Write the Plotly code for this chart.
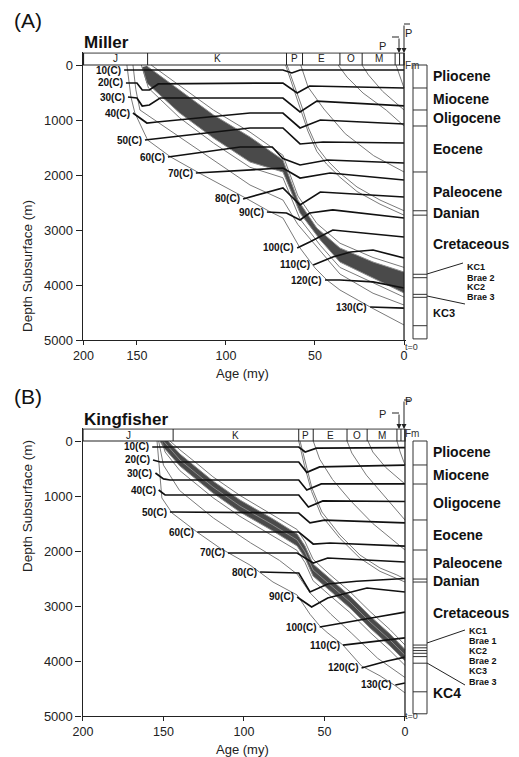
import plotly.graph_objects as go

W, H = 519, 757
FONT = "Liberation Sans, Arial, Helvetica, sans-serif"

# ---------------- data ----------------
AGE_TICKS = [200, 150, 100, 50, 0]
DEPTH_TICKS = [0, 1000, 2000, 3000, 4000, 5000]
PERIOD_BOUNDS = [200, 144, 66, 57, 36, 23.5, 5, 2.5, 0]
PERIOD_NAMES = ["J", "K", "P", "E", "O", "M", "", ""]
ISO_LABELS = ["10(C)", "20(C)", "30(C)", "40(C)", "50(C)", "60(C)", "70(C)",
              "80(C)", "90(C)", "100(C)", "110(C)", "120(C)", "130(C)"]

# ---- Panel A : Miller ----
A_ISO_AGE = [
    [162, 68, 63, 58.4, 0],
    [160.3, 150, 147, 143, 138, 68, 60, 53, 0],
    [158.4, 150, 147, 143, 137, 68, 58.4, 49, 0],
    [153.7, 148, 144.4, 138.8, 86.5, 68, 58.4, 47, 0],
    [145.5, 86.5, 68, 58.4, 45.5, 0],
    [132.6, 92, 74, 68, 58.4, 43, 0],
    [116.9, 86.5, 68, 58.4, 41.5, 0],
    [90.4, 68, 58.4, 47, 0],
    [77, 66, 58.4, 53, 40, 0],
    [60, 53, 40, 0],
    [51, 40, 30, 17.4, 0],
    [44.4, 36, 17.4, 0],
    [19, 0],
]
A_ISO_DEPTH = [
    [91, 91, 145, 91, 91],
    [327, 327, 455, 455, 345, 327, 509, 382, 418],
    [582, 600, 745, 727, 600, 600, 855, 655, 745],
    [873, 964, 1055, 1036, 873, 873, 1145, 1000, 1073],
    [1364, 1145, 1145, 1436, 1400, 1418],
    [1673, 1491, 1491, 1700, 1818, 1727, 1782],
    [1964, 1909, 1873, 2055, 1964, 2091],
    [2436, 2236, 2545, 2309, 2400],
    [2673, 2691, 2818, 2691, 2636, 2782],
    [3327, 3218, 3000, 3127],
    [3636, 3491, 3400, 3364, 3509],
    [3909, 3909, 3945, 4055],
    [4400, 4420],
]
A_BAND_UP_AGE = [144.4, 126, 107, 86.5, 68, 59.6, 49, 36, 17.4, 0]
A_BAND_UP_DEPTH = [20, 455, 909, 1309, 1727, 2455, 2964, 3327, 3582, 3764]
A_BAND_LO_AGE = [147, 144.4, 126, 107, 86.5, 68, 58.4, 47, 36, 17.4, 0]
A_BAND_LO_DEPTH = [36, 327, 873, 1327, 1764, 1945, 2691, 3182, 3582, 3873, 4145]
A_HORIZONS_AGE = [
    [142, 126, 107, 86.5, 68, 59.6, 49, 36, 17.4, 0],               # above band
    [147.5, 143.5, 126, 107, 86.5, 68, 58.4, 47, 36, 17.4, 0],       # below band
    [153.7, 151, 148.3, 86.5, 68, 59.6, 36, 17.4, 0],                # middle
    [159.4, 157.5, 155.6, 151.9, 144, 131, 115, 89, 76, 68, 58.4, 50, 43.3, 36, 18, 0],  # deepest
    [65.7, 61.2, 57.3, 53.9, 48.9, 43.3, 36, 26.4, 13.5, 0],         # top Danian
    [66.5, 61.5, 57.5, 54, 49, 43.5, 36, 26.4, 13.5, 0],             # base Danian
    [58, 53.9, 45, 33, 17, 0],
    [37, 32, 23, 10, 0],
    [23.6, 20, 12, 0],
    [4.5, 2.5, 0],
]
A_HORIZONS_DEPTH = [
    [0, 370, 820, 1220, 1640, 2380, 2880, 3240, 3500, 3680],
    [0, 420, 960, 1420, 1860, 2050, 2800, 3280, 3680, 3960, 4220],
    [0, 450, 818, 2182, 2455, 2900, 3800, 4150, 4364],
    [0, 327, 582, 873, 1364, 1673, 1964, 2418, 2655, 2782, 3327, 3690, 3909, 4091, 4418, 4727],
    [0, 400, 764, 1127, 1491, 1727, 1964, 2218, 2455, 2650],
    [0, 470, 840, 1200, 1570, 1800, 2040, 2300, 2530, 2730],
    [0, 400, 800, 1250, 1650, 1945],
    [0, 220, 510, 820, 1109],
    [0, 180, 480, 818],
    [0, 200, 418],
]
A_FM_LINES = [418, 818, 1109, 1945, 2650, 2730, 3805, 3867, 4170, 4224, 4740]
A_FM_BOTTOM = 4980
A_FM_NAMES = ["Pliocene", "Miocene", "Oligocene", "Eocene", "Paleocene", "Danian", "Cretaceous"]
A_FM_NAME_DEPTHS = [200, 618, 964, 1527, 2309, 2690, 3254]
A_FM_SMALL = ["KC1", "Brae 2", "KC2", "Brae 3"]
A_FM_SMALL_DEPTHS = [3672, 3872, 4036, 4218]
A_FM_LOW = ["KC3"]
A_FM_LOW_DEPTHS = [4509]

# ---- Panel B : Kingfisher ----
B_ISO_AGE = [
    [157, 66, 62, 55, 0],
    [156.5, 152, 66, 61, 53, 0],
    [155, 150, 146, 66, 61, 52, 0],
    [153, 149, 66, 60, 51, 0],
    [146, 66, 59, 50, 0],
    [129, 66, 57, 46.6, 0],
    [110, 67, 57, 48, 0],
    [90, 66, 59, 48, 30, 0],
    [67, 58, 48, 23.6, 0],
    [53, 36, 17.4, 0],
    [38.5, 19.8, 0],
    [27, 11, 0],
    [6, 0],
]
B_ISO_DEPTH = [
    [109, 109, 200, 130, 120],
    [345, 382, 382, 570, 470, 440],
    [582, 690, 709, 709, 890, 780, 780],
    [891, 982, 982, 1200, 1090, 1100],
    [1291, 1309, 1490, 1440, 1490],
    [1655, 1655, 1873, 1855, 1910],
    [2036, 2036, 2218, 2127, 2200],
    [2382, 2400, 2745, 2600, 2550, 2500],
    [2836, 3018, 2855, 2673, 2745],
    [3382, 3290, 3200, 3110],
    [3710, 3650, 3580],
    [4127, 4000, 3930],
    [4436, 4400],
]
B_BAND_UP_AGE = [147.2, 139.8, 129.2, 119.3, 102.5, 82, 67, 62.1, 57.1, 46.6, 34.2, 21.7, 9.3, 0]
B_BAND_UP_DEPTH = [0, 236, 491, 727, 1073, 1418, 1691, 1909, 2236, 2509, 2818, 3182, 3509, 3790]
B_BAND_LO_AGE = [152.2, 149.7, 139.8, 129.2, 119.3, 102.5, 82, 67, 62.1, 57.1, 46.6, 34.2, 21.7, 9.3, 0]
B_BAND_LO_DEPTH = [0, 127, 455, 709, 945, 1291, 1636, 1909, 2127, 2455, 2727, 3036, 3400, 3727, 4000]
B_BAND_IN_AGE = [150, 139.8, 129.2, 119.3, 102.5, 82, 67, 62.1, 57.1, 46.6, 34.2, 21.7, 9.3, 0]
B_BAND_IN_DEPTH = [0, 345, 600, 836, 1182, 1527, 1800, 2018, 2345, 2618, 2927, 3291, 3618, 3895]
B_HORIZONS_AGE = [
    [146, 139.8, 129.2, 119.3, 102.5, 82, 67, 62.1, 57.1, 46.6, 34.2, 21.7, 9.3, 0],
    [151, 149, 139.8, 129.2, 119.3, 102.5, 82, 67, 62.1, 57.1, 46.6, 34.2, 21.7, 9.3, 0],
    [153, 150, 140, 119, 96, 78, 67, 59, 46, 33, 17, 0],
    [154, 153.4, 152.2, 151, 144.7, 129.2, 115, 96.3, 82, 67, 59, 53, 48.4, 38.5, 27, 15.5, 6, 0],
    [65.2, 62.1, 57.8, 51.6, 40.4, 28, 15.5, 5, 0],
    [66, 62.5, 58, 52, 40.4, 28, 15.5, 5, 0],
    [57, 53, 45, 34, 20, 0],
    [36, 33, 24, 13, 0],
    [23, 20, 12, 0],
    [5, 3, 0],
]
B_HORIZONS_DEPTH = [
    [0, 160, 410, 650, 990, 1340, 1610, 1830, 2150, 2430, 2740, 3100, 3430, 3710],
    [0, 200, 540, 790, 1030, 1370, 1720, 1990, 2210, 2540, 2810, 3120, 3480, 3810, 4080],
    [0, 440, 900, 1400, 1850, 2170, 2420, 2760, 3150, 3500, 3950, 4300],
    [0, 255, 618, 1036, 1309, 1655, 1945, 2255, 2564, 2800, 3150, 3360, 3480, 3710, 4090, 4270, 4450, 4580],
    [0, 382, 855, 1291, 1709, 2073, 2309, 2436, 2510],
    [0, 440, 920, 1350, 1770, 2130, 2370, 2500, 2564],
    [0, 330, 700, 1080, 1500, 1982],
    [0, 220, 620, 1000, 1436],
    [0, 200, 480, 782],
    [0, 200, 436],
]
B_FM_LINES = [436, 782, 1436, 1982, 2510, 2564, 3710, 3760, 3810, 3860, 3920, 4040, 4560]
B_FM_BOTTOM = 4960
B_FM_NAMES = ["Pliocene", "Miocene", "Oligocene", "Eocene", "Paleocene", "Danian", "Cretaceous"]
B_FM_NAME_DEPTHS = [200, 618, 1127, 1709, 2218, 2545, 3127]
B_FM_SMALL = ["KC1", "Brae 1", "KC2", "Brae 2", "KC3", "Brae 3"]
B_FM_SMALL_DEPTHS = [3454, 3636, 3818, 4000, 4182, 4382]
B_FM_LOW = ["KC4"]
B_FM_LOW_DEPTHS = [4582]


# ---------------- helpers ----------------
def px(x):
    return x / W


def py(y):
    return 1 - y / H


def ua(age):  # panel A: older than 150 my is drawn compressed
    return age if age <= 150 else 150 + (age - 150) * 0.6


def ub(age):
    return age


HEADER_TOP = -218

panels = [
    dict(label="(A)", title="Miller", xa="x", ya="y", xr="x", yr="y", tf=ua,
         xdom=[82.7 / W, 405.8 / W], ydom=[1 - 340 / H, 1 - 52.35 / H],
         iso_age=A_ISO_AGE, iso_depth=A_ISO_DEPTH,
         up_age=A_BAND_UP_AGE, up_depth=A_BAND_UP_DEPTH,
         lo_age=A_BAND_LO_AGE, lo_depth=A_BAND_LO_DEPTH,
         in_age=None, in_depth=None,
         hz_age=A_HORIZONS_AGE, hz_depth=A_HORIZONS_DEPTH,
         fm_lines=A_FM_LINES, fm_bottom=A_FM_BOTTOM,
         fm_names=A_FM_NAMES, fm_name_depths=A_FM_NAME_DEPTHS,
         fm_small=A_FM_SMALL, fm_small_depths=A_FM_SMALL_DEPTHS,
         fm_low=A_FM_LOW, fm_low_depths=A_FM_LOW_DEPTHS, low_size=11,
         y0=65, top=53, bottom=340, lead=[(427, 274, 463, 263), (427, 296, 465, 304)],
         small_x=465),
    dict(label="(B)", title="Kingfisher", xa="x2", ya="y2", xr="x2", yr="y2", tf=ub,
         xdom=[82.5 / W, 406.6 / W], ydom=[1 - 716 / H, 1 - 428.35 / H],
         iso_age=B_ISO_AGE, iso_depth=B_ISO_DEPTH,
         up_age=B_BAND_UP_AGE, up_depth=B_BAND_UP_DEPTH,
         lo_age=B_BAND_LO_AGE, lo_depth=B_BAND_LO_DEPTH,
         in_age=B_BAND_IN_AGE, in_depth=B_BAND_IN_DEPTH,
         hz_age=B_HORIZONS_AGE, hz_depth=B_HORIZONS_DEPTH,
         fm_lines=B_FM_LINES, fm_bottom=B_FM_BOTTOM,
         fm_names=B_FM_NAMES, fm_name_depths=B_FM_NAME_DEPTHS,
         fm_small=B_FM_SMALL, fm_small_depths=B_FM_SMALL_DEPTHS,
         fm_low=B_FM_LOW, fm_low_depths=B_FM_LOW_DEPTHS, low_size=14,
         y0=441, top=429, bottom=716, lead=[(427, 643, 465, 630), (427, 663, 465, 685)],
         small_x=467),
]

fig = go.Figure()
shapes = []
annotations = []

for p in panels:
    tf = p["tf"]
    xa, ya = p["xa"], p["ya"]
    # shaded band
    bx = [tf(a) for a in p["up_age"]] + [tf(a) for a in p["lo_age"][::-1]]
    by = list(p["up_depth"]) + list(p["lo_depth"][::-1])
    fig.add_trace(go.Scatter(x=bx, y=by, xaxis=xa, yaxis=ya, mode="lines", fill="toself",
                             fillcolor="#4a4a4a", line=dict(width=0), hoverinfo="skip",
                             showlegend=False))
    # band edges
    for ages, depths in [(p["up_age"], p["up_depth"]), (p["lo_age"], p["lo_depth"])]:
        fig.add_trace(go.Scatter(x=[tf(a) for a in ages], y=depths, xaxis=xa, yaxis=ya,
                                 mode="lines", line=dict(color="#8c8c8c", width=1),
                                 hoverinfo="skip", showlegend=False))
    if p["in_age"]:
        fig.add_trace(go.Scatter(x=[tf(a) for a in p["in_age"]], y=p["in_depth"], xaxis=xa,
                                 yaxis=ya, mode="lines", line=dict(color="#9a9a9a", width=0.8),
                                 hoverinfo="skip", showlegend=False))
    # horizons (burial curves)
    for ages, depths in zip(p["hz_age"], p["hz_depth"]):
        fig.add_trace(go.Scatter(x=[tf(a) for a in ages], y=depths, xaxis=xa, yaxis=ya,
                                 mode="lines", line=dict(color="#7a7a7a", width=1),
                                 hoverinfo="skip", showlegend=False))
    # isotherms
    for lab, ages, depths in zip(ISO_LABELS, p["iso_age"], p["iso_depth"]):
        fig.add_trace(go.Scatter(x=[tf(a) for a in ages], y=depths, xaxis=xa, yaxis=ya,
                                 mode="lines", line=dict(color="#111111", width=1.7),
                                 hoverinfo="skip", showlegend=False))
        annotations.append(dict(x=tf(ages[0]), y=depths[0], xref=p["xr"], yref=p["yr"],
                                text="<b>%s</b>" % lab, showarrow=False, xanchor="right",
                                yanchor="middle", xshift=-1,
                                font=dict(family=FONT, size=10, color="#111")))

    # header strip
    shapes.append(dict(type="rect", xref=p["xr"], yref=p["yr"], x0=tf(200), x1=tf(0),
                       y0=HEADER_TOP, y1=0, line=dict(color="#222", width=1.2)))
    for b in PERIOD_BOUNDS[1:-1]:
        shapes.append(dict(type="line", xref=p["xr"], yref=p["yr"], x0=tf(b), x1=tf(b),
                           y0=HEADER_TOP, y1=0, line=dict(color="#222", width=1)))
    for i, nm in enumerate(PERIOD_NAMES):
        if nm:
            mid = (tf(PERIOD_BOUNDS[i]) + tf(PERIOD_BOUNDS[i + 1])) / 2
            annotations.append(dict(x=mid, y=HEADER_TOP / 2, xref=p["xr"], yref=p["yr"],
                                    text=nm, showarrow=False, yanchor="middle",
                                    font=dict(family=FONT, size=10, color="#222")))
    # right edge (present day)
    shapes.append(dict(type="line", xref=p["xr"], yref=p["yr"], x0=0, x1=0,
                       y0=HEADER_TOP, y1=5000, line=dict(color="#222", width=1.3)))

    # formation column
    shapes.append(dict(type="rect", xref="paper", yref=p["yr"], x0=px(413), x1=px(427),
                       y0=0, y1=p["fm_bottom"], line=dict(color="#333", width=1)))
    for d in p["fm_lines"]:
        shapes.append(dict(type="line", xref="paper", yref=p["yr"], x0=px(413), x1=px(427),
                           y0=d, y1=d, line=dict(color="#333", width=1)))
    for nm, d in zip(p["fm_names"], p["fm_name_depths"]):
        annotations.append(dict(x=px(431), y=d, xref="paper", yref=p["yr"],
                                text="<b>%s</b>" % nm, showarrow=False, xanchor="left",
                                yanchor="middle", font=dict(family=FONT, size=14, color="#111")))
    for nm, d in zip(p["fm_small"], p["fm_small_depths"]):
        annotations.append(dict(x=px(p["small_x"]), y=d, xref="paper", yref=p["yr"],
                                text="<b>%s</b>" % nm, showarrow=False, xanchor="left",
                                yanchor="middle", font=dict(family=FONT, size=9, color="#111")))
    for nm, d in zip(p["fm_low"], p["fm_low_depths"]):
        annotations.append(dict(x=px(431), y=d, xref="paper", yref=p["yr"],
                                text="<b>%s</b>" % nm, showarrow=False, xanchor="left",
                                yanchor="middle",
                                font=dict(family=FONT, size=p["low_size"], color="#111")))
    for (x0, y0, x1, y1) in p["lead"]:
        shapes.append(dict(type="line", xref="paper", yref="paper", x0=px(x0), y0=py(y0),
                           x1=px(x1), y1=py(y1), line=dict(color="#222", width=1)))
    annotations.append(dict(x=px(420), y=py(p["bottom"] + 7), xref="paper", yref="paper",
                            text="t=0", showarrow=False,
                            font=dict(family=FONT, size=9, color="#333")))
    annotations.append(dict(x=px(421), y=py(p["top"] + 5), xref="paper", yref="paper",
                            text="Fm", showarrow=False,
                            font=dict(family=FONT, size=10, color="#333")))

    # P arrows
    t = p["top"]
    shapes.append(dict(type="line", xref="paper", yref="paper", x0=px(392), x1=px(399),
                       y0=py(t - 16), y1=py(t - 16), line=dict(color="#222", width=1)))
    shapes.append(dict(type="line", xref="paper", yref="paper", x0=px(404), x1=px(410),
                       y0=py(t - 29), y1=py(t - 29), line=dict(color="#222", width=1)))
    annotations.append(dict(x=px(399), y=py(t), xref="paper", yref="paper", text="",
                            showarrow=True, ax=0, ay=-16, arrowhead=2, arrowsize=1,
                            arrowwidth=1, arrowcolor="#222"))
    annotations.append(dict(x=px(404), y=py(t), xref="paper", yref="paper", text="",
                            showarrow=True, ax=0, ay=-29, arrowhead=2, arrowsize=1,
                            arrowwidth=1, arrowcolor="#222"))
    annotations.append(dict(x=px(388), y=py(t - 15), xref="paper", yref="paper", text="P",
                            showarrow=False, font=dict(family=FONT, size=11, color="#222")))
    annotations.append(dict(x=px(414), y=py(t - 28), xref="paper", yref="paper", text="P",
                            showarrow=False, font=dict(family=FONT, size=11, color="#222")))

    # titles
    annotations.append(dict(x=px(12), y=py(p["top"] - 33), xref="paper", yref="paper",
                            text=p["label"], showarrow=False, xanchor="left", yanchor="middle",
                            font=dict(family=FONT, size=21, color="#111")))
    annotations.append(dict(x=px(82), y=py(p["top"] - 10), xref="paper", yref="paper",
                            text="<b>%s</b>" % p["title"], showarrow=False, xanchor="left",
                            yanchor="middle", font=dict(family=FONT, size=17, color="#111")))
    annotations.append(dict(x=px(18), y=py((p["top"] + p["bottom"]) / 2 + 2), xref="paper",
                            yref="paper", text="Depth Subsurface (m)", showarrow=False,
                            textangle=-90, font=dict(family=FONT, size=13.5, color="#222")))
    annotations.append(dict(x=px(242), y=py(p["bottom"] + 33), xref="paper", yref="paper",
                            text="Age (my)", showarrow=False, yanchor="middle",
                            font=dict(family=FONT, size=13, color="#222")))


def xaxis_cfg(p):
    tf = p["tf"]
    lo = tf(200) + 0.45 if p["tf"] is ua else 200.3
    return dict(domain=p["xdom"], range=[lo, -1], tickvals=[tf(v) for v in AGE_TICKS],
                ticktext=[str(v) for v in AGE_TICKS], ticks="outside", ticklen=4,
                tickcolor="#222", showline=True, linecolor="#222", linewidth=1.2,
                showgrid=False, zeroline=False, anchor=p["ya"], automargin=False,
                tickfont=dict(family=FONT, size=12.5, color="#222"), fixedrange=True)


def yaxis_cfg(p):
    return dict(domain=p["ydom"], range=[5000, -230], tickvals=DEPTH_TICKS,
                ticktext=[str(v) for v in DEPTH_TICKS], ticks="outside", ticklen=6,
                tickcolor="#222", showline=True, linecolor="#222", linewidth=1.2,
                showgrid=False, zeroline=False, anchor=p["xa"], automargin=False,
                tickfont=dict(family=FONT, size=13, color="#222"), fixedrange=True)


fig.update_layout(
    width=W, height=H, margin=dict(l=0, r=0, t=0, b=0, autoexpand=False),
    paper_bgcolor="white", plot_bgcolor="white", showlegend=False,
    xaxis=xaxis_cfg(panels[0]), yaxis=yaxis_cfg(panels[0]),
    xaxis2=xaxis_cfg(panels[1]), yaxis2=yaxis_cfg(panels[1]),
    shapes=shapes, annotations=annotations,
    font=dict(family=FONT),
)

fig.write_html("out.html")
